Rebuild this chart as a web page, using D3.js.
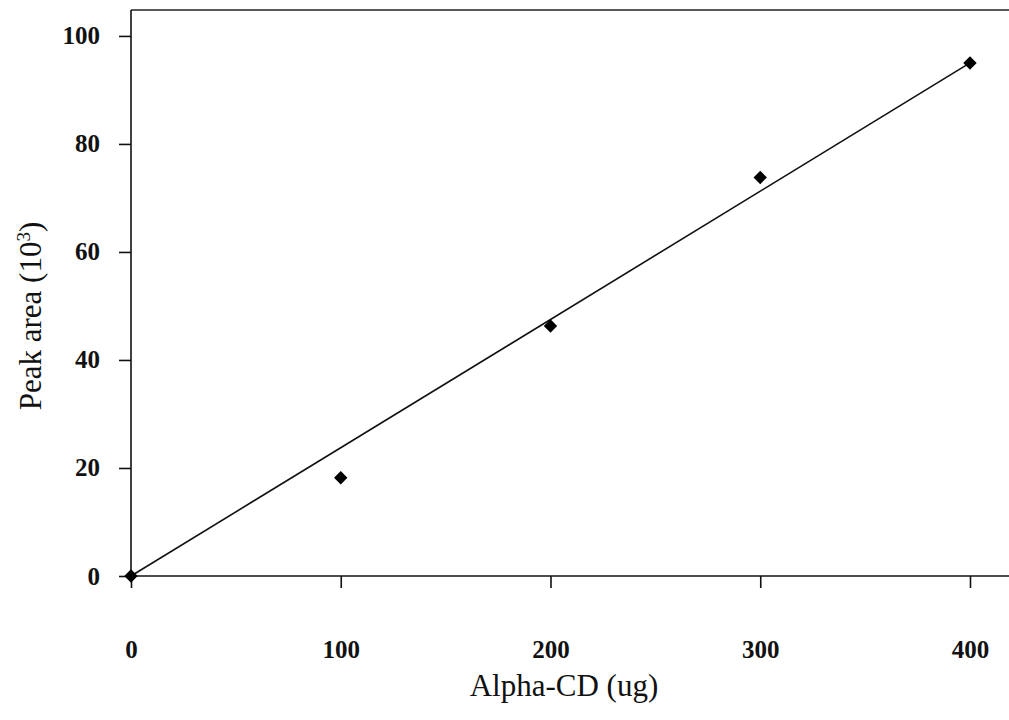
<!DOCTYPE html>
<html>
<head>
<meta charset="utf-8">
<script src="https://cdn.jsdelivr.net/npm/d3@7"></script>
<style>
  body { margin: 0; background: #fff; }
  svg { display: block; font-family: "Liberation Serif", "Times New Roman", serif; }
</style>
</head>
<body>
<svg id="chart" width="1009" height="720"></svg>
<script>
// data
const amounts   = [0, 100, 200, 300, 400];        // Alpha-CD (ug)
const peakAreas = [0, 18.2, 46.3, 73.8, 95.0];    // Peak area (10^3)
const fitX      = [0, 400];                       // regression line ends
const fitY      = [0, 95.0];
const xTicks    = [0, 100, 200, 300, 400];
const yTicks    = [0, 20, 40, 60, 80, 100];

const svg = d3.select("#chart");
const margin = { top: 10, right: 0, bottom: 144, left: 131 };
const width  = 1009 - margin.left - margin.right,
      height = 720 - margin.top - margin.bottom;

const x = d3.scaleLinear().domain([0, 418.6]).range([0, width]);
const y = d3.scaleLinear().domain([0, 104.8]).range([height, 0]);

const g = svg.append("g").attr("transform", `translate(${margin.left},${margin.top})`);

// top frame line
g.append("line")
  .attr("x1", 0).attr("x2", width)
  .attr("y1", 0).attr("y2", 0)
  .attr("stroke", "#222").attr("stroke-width", 1.6);

// axes
const xAxis = d3.axisBottom(x).tickValues(xTicks).tickSize(12).tickPadding(52).tickSizeOuter(0);
const yAxis = d3.axisLeft(y).tickValues(yTicks).tickSize(12).tickPadding(19).tickSizeOuter(0);

function styleAxis(a, path) {
  a.attr("font-family", null).attr("font-size", null);
  a.select(".domain").attr("stroke", "#111").attr("stroke-width", 1.6).attr("d", path);
  a.selectAll(".tick line").attr("stroke", "#111").attr("stroke-width", 1.6);
  a.selectAll("text")
    .attr("fill", "#111").style("font-size", "25px").style("font-weight", "bold");
}

g.append("g")
  .attr("transform", `translate(0,${height})`)
  .call(xAxis)
  .call(a => styleAxis(a, `M0,0H${width}`));

g.append("g")
  .call(yAxis)
  .call(a => styleAxis(a, `M0,${height}V0`));

// fitted line
g.append("line")
  .attr("x1", x(fitX[0])).attr("y1", y(fitY[0]))
  .attr("x2", x(fitX[1])).attr("y2", y(fitY[1]))
  .attr("stroke", "#111").attr("stroke-width", 1.6);

// diamond markers
const diamond = d3.symbol().type(d3.symbolSquare).size(90);
g.selectAll(".pt")
  .data(amounts.map((a, i) => [a, peakAreas[i]]))
  .enter().append("path")
    .attr("class", "pt")
    .attr("d", diamond)
    .attr("transform", d => `translate(${x(d[0])},${y(d[1])}) rotate(45)`)
    .attr("fill", "#000");

// axis titles
svg.append("text")
  .attr("x", 564)
  .attr("y", 696)
  .attr("text-anchor", "middle")
  .attr("fill", "#111")
  .style("font-size", "31px")
  .text("Alpha-CD (ug)");

const yt = svg.append("text")
  .attr("transform", `translate(41,316) rotate(-90)`)
  .attr("text-anchor", "middle")
  .attr("fill", "#111")
  .style("font-size", "31px");
yt.append("tspan").text("Peak area (10");
yt.append("tspan").attr("dy", -11).style("font-size", "19px").text("3");
yt.append("tspan").attr("dy", 11).text(")");
</script>
</body>
</html>
